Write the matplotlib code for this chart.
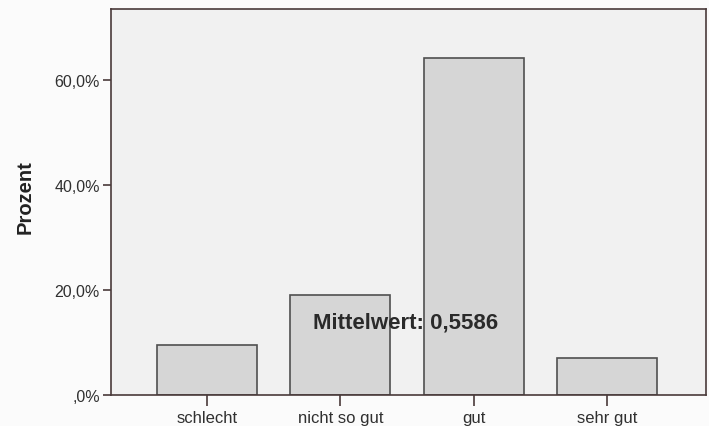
import matplotlib
matplotlib.use("Agg")
import matplotlib.pyplot as plt
from matplotlib.ticker import FuncFormatter

categories = ["schlecht", "nicht so gut", "gut", "sehr gut"]
percent = [9.6, 19.1, 64.2, 7.1]
y_ticks = [0, 20, 40, 60]
mean_label = "Mittelwert: 0,5586"

plt.rcParams['font.family'] = ['Liberation Sans', 'DejaVu Sans']

fig = plt.figure(figsize=(7.09, 4.27), dpi=100, facecolor="#fbfbfb")
ax = fig.add_axes([111 / 709, 31 / 427, 595 / 709, 386 / 427])
ax.set_facecolor("#f1f1f1")

x = range(len(categories))
ax.bar(x, percent, width=0.75, color="#d6d6d6", edgecolor="#505050", linewidth=1.2, zorder=2)

ax.set_xlim(-0.72, 3.74)
ax.set_ylim(0, 73.5)
ax.set_xticks(list(x))
ax.set_xticklabels(categories, fontsize=12, color="#303030")
ax.set_yticks(y_ticks)

# SPSS style: ",0%" for zero, comma as decimal separator
ax.yaxis.set_major_formatter(FuncFormatter(lambda v, p: ",0%" if v == 0 else f"{v:.1f}%".replace(".", ",")))
ax.tick_params(axis="y", length=6, width=1.2, color="#4a3a3a", labelsize=11.5, labelcolor="#303030", pad=2)
ax.tick_params(axis="x", length=8, width=1.2, color="#4a3a3a", pad=3)

for sp in ax.spines.values():
    sp.set_color("#4a3a3a")
    sp.set_linewidth(1.2)

ax.set_ylabel("Prozent", fontsize=14.5, fontweight="bold", color="#222222")
ax.yaxis.set_label_coords(-0.128, 0.516)

ax.text(1.49, 13.9, mean_label, fontsize=16, fontweight="bold", color="#2a2a2a",
        ha="center", va="center", zorder=3)

fig.savefig("out.png", dpi=100, facecolor=fig.get_facecolor())
